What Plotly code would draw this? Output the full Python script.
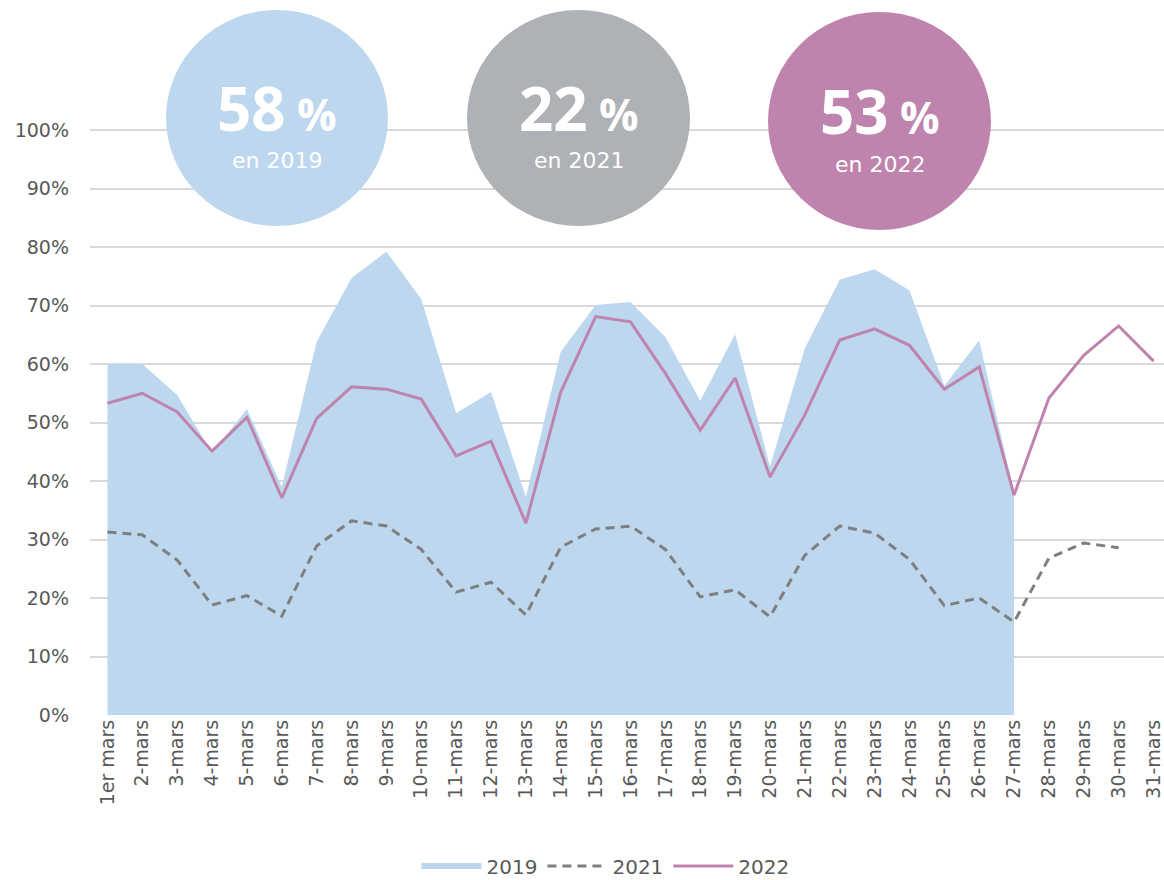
import plotly.graph_objects as go

days = ["1er mars"] + [f"{d}-mars" for d in range(2, 32)]

v2019 = [60, 60, 54.7, 44.8, 52.3, 39.0, 63.8, 74.7, 79.2, 71.1, 51.6, 55.2, 37.3, 62.1,
         70.1, 70.6, 64.6, 53.7, 65.1, 42.5, 62.7, 74.4, 76.2, 72.6, 56.3, 64.0, 38.0]
v2021 = [31.3, 30.8, 26.5, 18.8, 20.4, 16.9, 28.9, 33.2, 32.3, 28.3, 21.0, 22.7, 17.1, 28.7,
         31.8, 32.3, 28.3, 20.2, 21.4, 16.8, 27.3, 32.3, 31.1, 26.6, 18.7, 20.0, 15.9,
         26.8, 29.4, 28.6]
v2022 = [53.3, 55.0, 51.8, 45.1, 50.9, 37.1, 50.7, 56.1, 55.7, 54.0, 44.3, 46.8, 32.8, 55.2,
         68.1, 67.2, 58.4, 48.7, 57.6, 40.7, 51.3, 64.1, 66.0, 63.2, 55.7, 59.5, 37.6,
         54.2, 61.5, 66.5, 60.5]

badges = [("58", "2019", "#BDD7EE"), ("22", "2021", "#AEB1B5"), ("53", "2022", "#BF84AE")]

FONT = "DejaVu Sans"
TXT = "#595959"

fig = go.Figure()
fig.add_trace(go.Scatter(x=days[:len(v2019)], y=[v / 100 for v in v2019], name="2019",
                         mode="none", fill="tozeroy", fillcolor="#BDD7EE"))
fig.add_trace(go.Scatter(x=days[:len(v2021)], y=[v / 100 for v in v2021], name="2021",
                         mode="lines", line=dict(color="#7F7F7F", width=3, dash="9px,6px")))
fig.add_trace(go.Scatter(x=days[:len(v2022)], y=[v / 100 for v in v2022], name="2022",
                         mode="lines", line=dict(color="#BF84AE", width=3)))

# plot area in pixels: x 90..1164, y 13..715
L, R, T, B = 90, 1164, 13, 715
def px(x):
    return (x - L) / (R - L)
def py(y):
    return (B - y) / (B - T)

circles = [(166, 388, 10, 226), (467, 690, 10, 226), (768, 991, 12, 230)]
shapes = []
annotations = []
for (num, year, col), (x0, x1, y0, y1) in zip(badges, circles):
    shapes.append(dict(type="circle", xref="paper", yref="paper", layer="above",
                       x0=px(x0), x1=px(x1), y0=py(y1), y1=py(y0),
                       fillcolor=col, line=dict(width=0)))
    cx = (x0 + x1) / 2
    cy = (y0 + y1) / 2
    annotations.append(dict(xref="paper", yref="paper", x=px(cx), y=py(cy - 10),
                            text=f"<b>{num}</b><span style='font-size:44px'><b> %</b></span>",
                            showarrow=False, font=dict(family="Open Sans", size=60, color="white"),
                            xanchor="center", yanchor="middle"))
    annotations.append(dict(xref="paper", yref="paper", x=px(cx), y=py(cy + 43),
                            text=f"en {year}", showarrow=False,
                            font=dict(family=FONT, size=22, color="white"),
                            xanchor="center", yanchor="middle"))

fig.update_layout(
    width=1164, height=880,
    margin=dict(l=L, r=0, t=T, b=880 - B, autoexpand=False),
    plot_bgcolor="white", paper_bgcolor="white",
    font=dict(family=FONT, color=TXT),
    showlegend=True,
    legend=dict(orientation="h", x=0.48, xanchor="center", y=-0.215, yanchor="middle",
                font=dict(size=20, color=TXT), itemwidth=60),
    shapes=shapes, annotations=annotations,
)
fig.update_xaxes(type="category", range=[-0.5, 30.3], tickangle=-90, automargin=False,
                 tickfont=dict(size=19, color=TXT), showgrid=False, showline=False,
                 ticks="", zeroline=False)
fig.update_yaxes(range=[0, 1.2], tickvals=[i / 10 for i in range(11)], automargin=False,
                 ticktext=[f"{i*10}%" for i in range(11)],
                 tickfont=dict(size=19, color=TXT), showgrid=True, gridcolor="#D9D9D9",
                 gridwidth=2, zeroline=False, ticks="", ticklabelstandoff=20)

fig.write_html("out.html", config={"displayModeBar": False},
               post_script="document.body.style.margin='0';document.body.style.overflow='hidden';")
